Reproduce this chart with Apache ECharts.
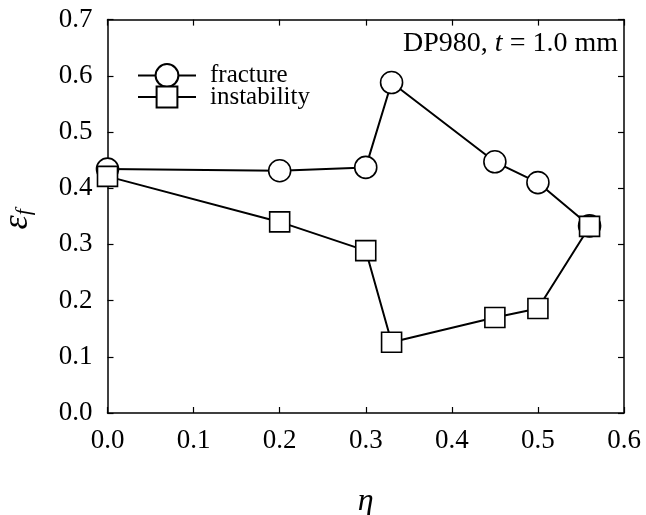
<!DOCTYPE html>
<html>
<head>
<meta charset="utf-8">
<script src="https://cdn.jsdelivr.net/npm/echarts@6/dist/echarts.min.js"></script>
<style>html,body{margin:0;padding:0;background:#fff;}#c{width:646px;height:515px;}</style>
</head>
<body>
<div id="c"></div>
<script>
const etaFracture = [0.0, 0.2, 0.3, 0.33, 0.45, 0.5, 0.56];
const epsFracture = [0.434, 0.431, 0.437, 0.588, 0.447, 0.410, 0.333];
const etaInstability = [0.0, 0.2, 0.3, 0.33, 0.45, 0.5, 0.56];
const epsInstability = [0.421, 0.340, 0.289, 0.126, 0.170, 0.186, 0.332];
const seriesNames = ['fracture', 'instability'];
const xTicks = [0.0, 0.1, 0.2, 0.3, 0.4, 0.5, 0.6];
const yTicks = [0.0, 0.1, 0.2, 0.3, 0.4, 0.5, 0.6, 0.7];

const FONT = '"Liberation Serif", "Times New Roman", serif';
const chart = echarts.init(document.getElementById('c'), null, {renderer: 'canvas'});

const pair = (xs, ys) => xs.map((x, i) => [x, ys[i]]);
const tickStyle = {show: true, inside: true, length: 6, lineStyle: {color: '#000', width: 1.2}};
const lineAx = {show: true, onZero: false, lineStyle: {color: '#000', width: 1.5}};

const option = {
  backgroundColor: '#fff',
  animation: false,
  grid: {left: 107.5, right: 22, top: 19.6, bottom: 102, containLabel: false, outerBoundsMode: 'none'},
  xAxis: [{
    type: 'value', min: xTicks[0], max: xTicks[xTicks.length - 1], interval: 0.1,
    position: 'bottom',
    axisLine: lineAx, axisTick: tickStyle, splitLine: {show: false},
    axisLabel: {color: '#000', fontFamily: FONT, fontSize: 27, margin: 14,
      formatter: v => v.toFixed(1)},
    name: 'η', nameLocation: 'middle', nameGap: 73,
    nameTextStyle: {fontFamily: FONT, fontStyle: 'italic', fontSize: 32, color: '#000'}
  }, {
    type: 'value', min: xTicks[0], max: xTicks[xTicks.length - 1], interval: 0.1,
    position: 'top',
    axisLine: lineAx, axisTick: tickStyle, splitLine: {show: false},
    axisLabel: {show: false}
  }],
  yAxis: [{
    type: 'value', min: yTicks[0], max: yTicks[yTicks.length - 1], interval: 0.1,
    position: 'left',
    axisLine: lineAx, axisTick: tickStyle, splitLine: {show: false},
    axisLabel: {color: '#000', fontFamily: FONT, fontSize: 27, margin: 15,
      formatter: v => v.toFixed(1)},
    name: '{e|ε}{f|f}', nameLocation: 'middle', nameGap: 72,
    nameTextStyle: {
      padding: [0, 6, 0, 0],
      rich: {
        e: {fontFamily: FONT, fontStyle: 'italic', fontSize: 36, color: '#000'},
        f: {fontFamily: FONT, fontStyle: 'italic', fontSize: 22, color: '#000', verticalAlign: 'bottom', padding: [14, 0, 0, 0]}
      }
    }
  }, {
    type: 'value', min: yTicks[0], max: yTicks[yTicks.length - 1], interval: 0.1,
    position: 'right',
    axisLine: lineAx, axisTick: tickStyle, splitLine: {show: false},
    axisLabel: {show: false}
  }],
  legend: [{
    data: [seriesNames[0]], orient: 'vertical', left: 137, top: 63, padding: 0,
    itemWidth: 58, itemHeight: 28.5,
    textStyle: {fontFamily: FONT, fontSize: 25, color: '#000', padding: [0, 0, 0, 9]}
  }, {
    data: [seriesNames[1]], orient: 'vertical', left: 137, top: 84.5, padding: 0,
    itemWidth: 58, itemHeight: 26,
    textStyle: {fontFamily: FONT, fontSize: 25, color: '#000', padding: [0, 0, 0, 9]}
  }],
  graphic: [{
    type: 'text', right: 28, top: 30,
    style: {
      text: '{n|DP980, }{i|t}{n| = 1.0 mm}',
      rich: {
        n: {fontFamily: FONT, fontSize: 28, fill: '#000'},
        i: {fontFamily: FONT, fontSize: 28, fontStyle: 'italic', fill: '#000'}
      }
    }
  }],
  series: [{
    name: seriesNames[0], type: 'line', data: pair(etaFracture, epsFracture),
    symbol: 'circle', symbolSize: 22,
    lineStyle: {color: '#000', width: 2},
    itemStyle: {color: '#fff', borderColor: '#000', borderWidth: 1.6}
  }, {
    name: seriesNames[1], type: 'line', data: pair(etaInstability, epsInstability),
    symbol: 'rect', symbolSize: 20,
    lineStyle: {color: '#000', width: 2},
    itemStyle: {color: '#fff', borderColor: '#000', borderWidth: 1.6}
  }]
};
chart.setOption(option);
</script>
</body>
</html>
